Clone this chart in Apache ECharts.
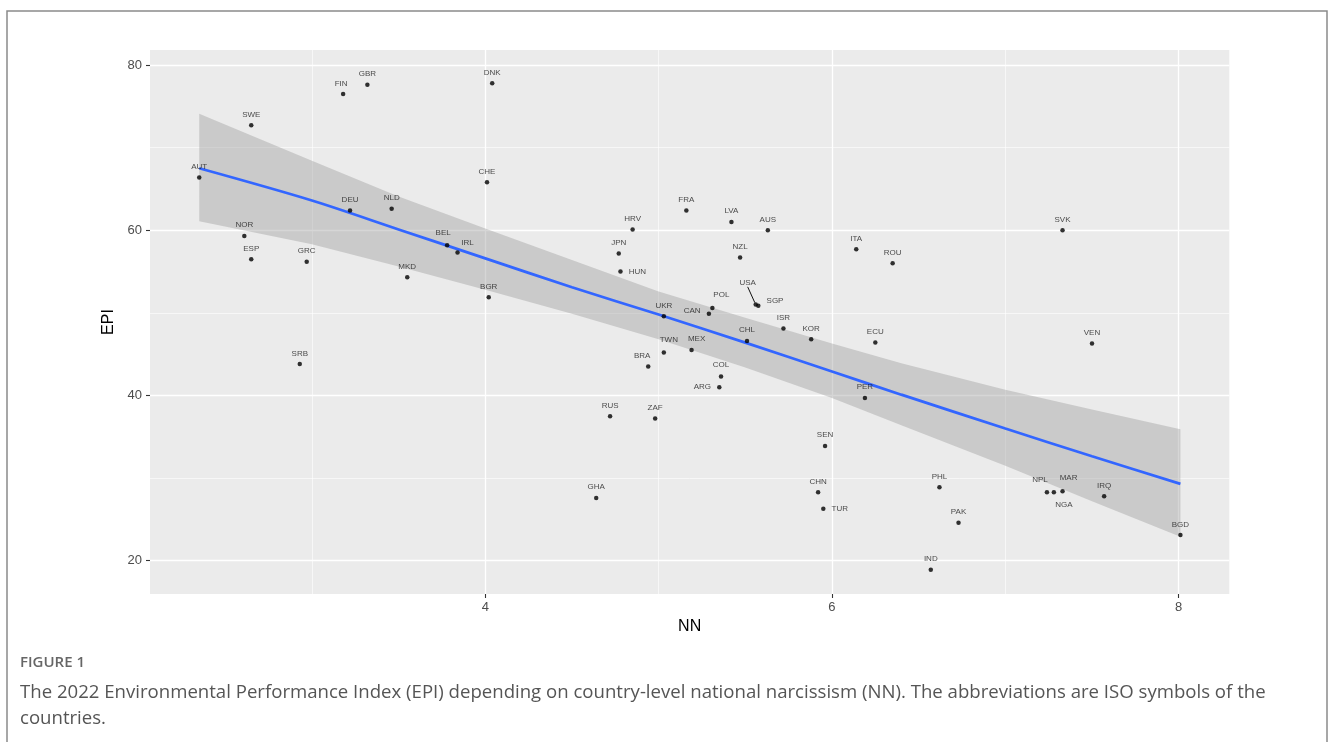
<!DOCTYPE html>
<html><head><meta charset="utf-8">
<script src="https://cdn.jsdelivr.net/npm/echarts@6/dist/echarts.min.js"></script>
<style>html,body{margin:0;padding:0;background:#fff}#c{width:1331px;height:742px}</style>
</head><body><div id="c"></div>
<script>
// ---- data ----
const codes = ['AUT','SWE','FIN','GBR','DNK','CHE','DEU','NLD','NOR','ESP','GRC','MKD','BEL','IRL','BGR','SRB','HRV','JPN','HUN','FRA','LVA','AUS','NZL','ITA','ROU','SVK','USA','SGP','POL','CAN','UKR','ISR','KOR','CHL','ECU','TWN','MEX','BRA','COL','ARG','PER','RUS','ZAF','SEN','CHN','TUR','GHA','VEN','PHL','PAK','IND','NPL','NGA','MAR','IRQ','BGD'];
const nn  = [2.35,2.65,3.18,3.32,4.04,4.01,3.22,3.46,2.61,2.65,2.97,3.55,3.78,3.84,4.02,2.93,4.85,4.77,4.78,5.16,5.42,5.63,5.47,6.14,6.35,7.33,5.56,5.575,5.31,5.29,5.03,5.72,5.88,5.51,6.25,5.03,5.19,4.94,5.36,5.35,6.19,4.72,4.98,5.96,5.92,5.95,4.64,7.50,6.62,6.73,6.57,7.24,7.28,7.33,7.57,8.01];
const epi = [66.4,72.7,76.5,77.6,77.8,65.8,62.4,62.6,59.3,56.5,56.2,54.3,58.2,57.3,51.9,43.8,60.1,57.2,55.0,62.4,61.0,60.0,56.7,57.7,56.0,60.0,51.0,50.85,50.6,49.9,49.6,48.1,46.8,46.6,46.4,45.2,45.5,43.5,42.3,41.0,39.7,37.5,37.2,33.9,28.3,26.3,27.6,46.3,28.9,24.6,18.9,28.3,28.3,28.4,27.8,23.1];

// smoothed fit and its confidence band
const fitX     = [2.35, 3.0, 3.5, 4.0, 4.5, 5.0, 5.5, 6.0, 6.4, 7.0, 7.5, 8.01];
const fitY     = [67.5, 63.6, 60.1, 56.6, 53.1, 49.8, 46.4, 42.9, 40.1, 36.0, 32.65, 29.3];
const fitLower = [61.1, 58.3, 55.6, 52.8, 49.9, 46.8, 43.4, 39.7, 36.4, 31.5, 27.2, 22.9];
const fitUpper = [74.1, 68.4, 64.1, 60.2, 56.4, 52.6, 49.4, 46.3, 43.9, 40.7, 38.3, 35.9];

const xTicks = [4, 6, 8];
const xMinor = [3, 5, 7];
const yTicks = [20, 40, 60, 80];
const yMinor = [30, 50, 70];

// ---- label placement (style only) ----
const labelPos = {HUN:'right', SGP:'right', TUR:'right', CAN:'left', ARG:'left', NGA:'bottom'};
const labelShift = {USA:[-8,-11], SGP:[0,-5], IRL:[10,1], POL:[9,-2], MEX:[5,0], TWN:[5,-2], BRA:[-6,0],
  NPL:[-7,-2], MAR:[6,-3], NGA:[10,0], BEL:[-4,-2], CAN:[0,-3], COL:[0,-1], FIN:[-2,1]};

const FONT = '"Liberation Sans", Arial, sans-serif';
const chart = echarts.init(document.getElementById('c'));

const scatterData = codes.map((c, i) => {
  const item = {name: c, value: [nn[i], epi[i]]};
  if (labelPos[c]) item.label = {position: labelPos[c], distance: 6};
  if (c === 'USA') item.labelLine = {show: true, lineStyle: {color: '#111', width: 1}};
  return item;
});

const xMin = 2.066, xMax = 8.292, yMin = 15.97, yMax = 81.82;

chart.setOption({
  animation: false,
  backgroundColor: '#fff',
  grid: {left: 150, top: 50, width: 1079.3, height: 544, show: true, backgroundColor: '#EBEBEB', borderWidth: 0},
  xAxis: [
    {type: 'value', min: xMin, max: xMax, name: 'NN', nameLocation: 'middle', nameGap: 23,
     nameTextStyle: {fontSize: 16, color: '#000', fontFamily: FONT},
     axisLine: {show: false},
     axisTick: {show: true, length: 4, customValues: xTicks, lineStyle: {color: '#333', width: 1.1}},
     axisLabel: {customValues: xTicks, color: '#4d4d4d', fontSize: 13, margin: 7, fontFamily: FONT},
     splitLine: {show: true, lineStyle: {color: '#fff', width: 1.3}}},
    {type: 'value', min: xMin, max: xMax, position: 'bottom',
     axisLine: {show: false}, axisTick: {show: false, customValues: xMinor},
     axisLabel: {show: false, customValues: xMinor},
     splitLine: {show: true, lineStyle: {color: '#fff', width: 0.6}}}
  ],
  yAxis: [
    {type: 'value', min: yMin, max: yMax, name: 'EPI', nameLocation: 'middle', nameGap: 26,
     nameTextStyle: {fontSize: 16, color: '#000', fontFamily: FONT},
     axisLine: {show: false},
     axisTick: {show: true, length: 4, customValues: yTicks, lineStyle: {color: '#333', width: 1.1}},
     axisLabel: {customValues: yTicks, color: '#4d4d4d', fontSize: 13, margin: 8, fontFamily: FONT},
     splitLine: {show: true, lineStyle: {color: '#fff', width: 1.3}}},
    {type: 'value', min: yMin, max: yMax, position: 'left',
     axisLine: {show: false}, axisTick: {show: false, customValues: yMinor},
     axisLabel: {show: false, customValues: yMinor},
     splitLine: {show: true, lineStyle: {color: '#fff', width: 0.6}}}
  ],
  series: [
    {type: 'custom', name: 'band', data: fitX.map((x, i) => [x, fitLower[i], fitUpper[i]]),
     silent: true, z: 1,
     renderItem: function (params, api) {
       if (params.dataIndexInside !== 0) return null;
       const n = params.dataInsideLength;
       const pts = [];
       for (let j = 0; j < n; j++) pts.push(api.coord([api.value(0, j), api.value(2, j)]));
       for (let j = n - 1; j >= 0; j--) pts.push(api.coord([api.value(0, j), api.value(1, j)]));
       return {type: 'polygon', shape: {points: pts}, style: {fill: 'rgba(153,153,153,0.4)'}};
     }},
    {type: 'line', name: 'fit', data: fitX.map((x, i) => [x, fitY[i]]),
     symbol: 'none', smooth: 0.3, lineStyle: {color: '#3366FF', width: 2.7}, silent: true, z: 2},
    {type: 'scatter', name: 'countries', data: scatterData, symbolSize: 4.5,
     itemStyle: {color: '#000'}, z: 3,
     label: {show: true, position: 'top', distance: 4.5, formatter: '{b}', fontSize: 8, color: '#1a1a1a', fontFamily: FONT},
     labelLayout: function (p) {
       const s = labelShift[codes[p.dataIndex]];
       return s ? {dx: s[0], dy: s[1]} : {};
     }}
  ],
  graphic: [
    {type: 'rect', shape: {x: 7, y: 11, width: 1320, height: 800}, style: {fill: 'none', stroke: '#8a8a8a', lineWidth: 1.5}, silent: true},
    {type: 'text', left: 20, top: 655, style: {text: 'FIGURE 1', font: '600 15px "Open Sans", sans-serif', fill: '#666'}},
    {type: 'text', left: 20, top: 680, style: {text: 'The 2022 Environmental Performance Index (EPI) depending on country-level national narcissism (NN). The abbreviations are ISO symbols of the\ncountries.', font: '18.6px "Open Sans", sans-serif', fill: '#555', lineHeight: 26}}
  ]
});
</script></body></html>
